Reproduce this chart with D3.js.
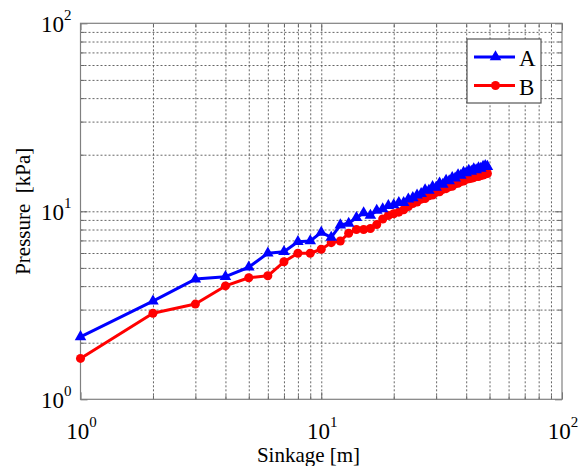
<!DOCTYPE html>
<html>
<head>
<meta charset="utf-8">
<script src="https://cdn.jsdelivr.net/npm/d3@7"></script>
<style>
  body { margin: 0; background: #fff; }
  text { font-family: "Liberation Serif", Tinos, "Times New Roman", Times, serif; fill: #000; }
  .grid line { stroke: #555; stroke-width: 0.9; stroke-dasharray: 2,2; }
  .grid path, .ticks path { display: none; }
  .ticks line { stroke: #666; stroke-width: 1; }
</style>
</head>
<body>
<svg width="584" height="466"></svg>
<script>
// data gelezen uit de figuur
var sinkage = [1, 2, 3, 4, 5, 6, 7, 8, 9, 10, 11, 12, 13, 14, 15, 16, 17, 18, 19, 20,
  21, 22, 23, 24, 25, 26, 27, 28, 29, 30, 31, 32, 33, 34, 35, 36, 37, 38, 39, 40,
  41, 42, 43, 44, 45, 46, 47, 48, 49];
var pressureA = [2.15, 3.33, 4.36, 4.49, 5.04, 5.98, 6.10, 6.89, 6.95, 7.73, 7.27, 8.45, 8.63, 9.25, 9.8, 9.5, 10.1, 10.3, 10.7, 10.8,
  11.1, 11.1, 11.6, 11.8, 12.2, 12.4, 13.0, 12.9, 13.5, 13.4, 14.1, 13.9, 14.6, 14.5, 15.1, 15.0, 15.6, 15.5, 16.1, 16.0,
  16.5, 16.3, 16.8, 16.6, 17.0, 16.9, 17.3, 17.5, 17.3];
var pressureB = [1.65, 2.87, 3.21, 4.01, 4.43, 4.54, 5.39, 5.98, 5.98, 6.28, 6.81, 6.95, 7.64, 8.0, 8.0, 8.1, 8.5, 9.1, 9.5, 9.7,
  9.9, 10.2, 10.6, 11.0, 11.2, 11.6, 11.7, 12.1, 12.2, 12.6, 12.7, 13.1, 13.2, 13.5, 13.6, 14.0, 14.1, 14.4, 14.5, 14.8,
  14.9, 15.0, 15.1, 15.3, 15.3, 15.5, 15.6, 15.8, 15.9];
var seriesNames = ["A", "B"];
var seriesColors = ["#0000ff", "#ff0000"];
var majorTicks = [1, 10, 100];
var tickExponents = ["0", "1", "2"];

var svg = d3.select("svg"),
    margin = {top: 23.3, right: 22, bottom: 66.7, left: 80.5},
    width = +svg.attr("width") - margin.left - margin.right,
    height = +svg.attr("height") - margin.top - margin.bottom;

var x = d3.scaleLog().domain([1, 100]).range([0, width]),
    y = d3.scaleLog().domain([1, 100]).range([height, 0]);

// alle minor waarden 2..9 per decade voor het grid
var minorTicks = [];
[1, 10].forEach(function(d) {
  for (var i = 2; i <= 9; i++) minorTicks.push(d * i);
});
var gridTicks = minorTicks.concat([10]);

var g = svg.append("g")
    .attr("transform", "translate(" + margin.left + "," + margin.top + ")");

g.append("rect")
    .attr("width", width)
    .attr("height", height)
    .attr("fill", "#fff");

// grid lijnen
g.append("g")
    .attr("class", "grid")
    .attr("transform", "translate(0," + height + ")")
    .call(d3.axisBottom(x).tickValues(gridTicks).tickSize(-height).tickFormat(""));

g.append("g")
    .attr("class", "grid")
    .call(d3.axisLeft(y).tickValues(gridTicks).tickSize(-width).tickFormat(""));

// kleine tick streepjes aan de binnenkant
function addTicks(axis, transform, vals, size) {
  g.append("g")
      .attr("class", "ticks")
      .attr("transform", transform)
      .call(axis.tickValues(vals).tickSize(size).tickFormat(""));
}
addTicks(d3.axisBottom(x), "translate(0," + height + ")", minorTicks, -4);
addTicks(d3.axisBottom(x), "translate(0," + height + ")", majorTicks, -7);
addTicks(d3.axisTop(x), "translate(0,0)", minorTicks, -4);
addTicks(d3.axisTop(x), "translate(0,0)", majorTicks, -7);
addTicks(d3.axisLeft(y), "translate(0,0)", minorTicks, -4);
addTicks(d3.axisLeft(y), "translate(0,0)", majorTicks, -7);
addTicks(d3.axisRight(y), "translate(" + width + ",0)", minorTicks, -4);
addTicks(d3.axisRight(y), "translate(" + width + ",0)", majorTicks, -7);

// kader
g.append("rect")
    .attr("width", width)
    .attr("height", height)
    .attr("fill", "none")
    .attr("stroke", "#808080")
    .attr("stroke-width", 1.2);

// tick labels als 10^n
function powerLabel(sel, exp) {
  sel.append("tspan").text("10");
  sel.append("tspan")
      .attr("dy", -12)
      .attr("font-size", 15)
      .text(exp);
}

majorTicks.forEach(function(d, i) {
  var t = g.append("text")
      .attr("x", x(d) + 1)
      .attr("y", height + 40)
      .attr("text-anchor", "middle")
      .attr("font-size", 23);
  powerLabel(t, tickExponents[i]);

  var t2 = g.append("text")
      .attr("x", -9)
      .attr("y", y(d) + 9)
      .attr("text-anchor", "end")
      .attr("font-size", 23);
  powerLabel(t2, tickExponents[i]);
});

// as titels
g.append("text")
    .attr("x", 228)
    .attr("y", height + 62.5)
    .attr("text-anchor", "middle")
    .attr("font-size", 21)
    .text("Sinkage [m]");

g.append("text")
    .attr("transform", "rotate(-90)")
    .attr("x", -height / 2)
    .attr("y", -51)
    .attr("text-anchor", "middle")
    .attr("font-size", 21)
    .attr("xml:space", "preserve")
    .text("Pressure  [kPa]");

// series
var series = [pressureA, pressureB].map(function(vals, i) {
  return {
    name: seriesNames[i],
    color: seriesColors[i],
    symbol: i === 0 ? d3.symbol().type(d3.symbolTriangle).size(58) : d3.symbol().type(d3.symbolCircle).size(64),
    values: sinkage.map(function(s, j) { return {x: s, y: vals[j]}; })
  };
});

var line = d3.line()
    .x(function(d) { return x(d.x); })
    .y(function(d) { return y(d.y); });

// B eerst tekenen zodat A erboven ligt
series.slice().reverse().forEach(function(s) {
  var sg = g.append("g");
  sg.append("path")
      .datum(s.values)
      .attr("fill", "none")
      .attr("stroke", s.color)
      .attr("stroke-width", 3)
      .attr("stroke-linejoin", "round")
      .attr("d", line);
  sg.selectAll(".pt")
      .data(s.values)
      .enter().append("path")
      .attr("class", "pt")
      .attr("fill", s.color)
      .attr("transform", function(d) { return "translate(" + x(d.x) + "," + y(d.y) + ")"; })
      .attr("d", s.symbol);
});

// legenda
var legend = svg.append("g").attr("transform", "translate(467,39)");
legend.append("rect")
    .attr("width", 74)
    .attr("height", 64)
    .attr("fill", "#fff")
    .attr("stroke", "#555")
    .attr("stroke-width", 1.2);

series.forEach(function(s, i) {
  var ly = 18 + i * 28.5;
  legend.append("line")
      .attr("x1", 7).attr("x2", 48)
      .attr("y1", ly).attr("y2", ly)
      .attr("stroke", s.color)
      .attr("stroke-width", 3);
  legend.append("path")
      .attr("fill", s.color)
      .attr("transform", "translate(28.5," + ly + ")")
      .attr("d", s.symbol);
  legend.append("text")
      .attr("x", 52)
      .attr("y", ly + 9)
      .attr("font-size", 23)
      .text(s.name);
});
</script>
</body>
</html>
